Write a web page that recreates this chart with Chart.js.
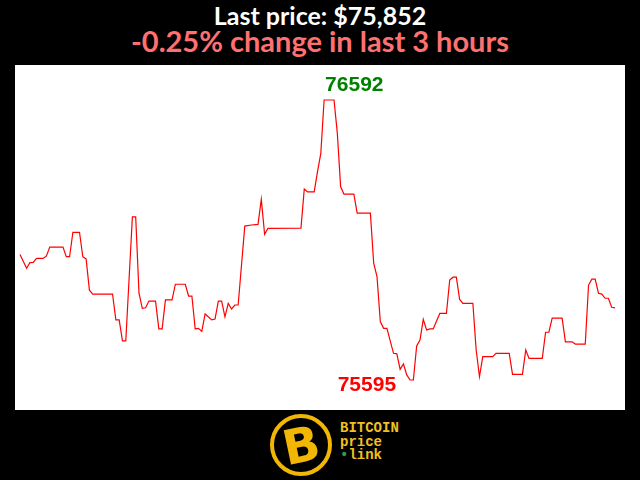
<!DOCTYPE html>
<html>
<head>
<meta charset="utf-8">
<script src="https://cdn.jsdelivr.net/npm/chart.js@4/dist/chart.umd.min.js"></script>
<style>
  html, body { margin: 0; padding: 0; background: #000; }
  body { width: 640px; height: 480px; position: relative; overflow: hidden; }
  .h { position: absolute; left: 0; width: 640px; text-align: center; font-family: Lato, sans-serif; font-weight: bold; white-space: nowrap; }
  #h1 { top: 0px; font-size: 25px; line-height: 30px; color: #fff; }
  #h2 { top: 23px; font-size: 29px; line-height: 35px; color: #ff7070; }
  #box { position: absolute; left: 15px; top: 65px; width: 610px; height: 345px; background: #fff; }
  #logo { position: absolute; left: 270px; top: 414px; width: 54px; height: 54px; border-radius: 50%; border: 4px solid #f2b705; background: #000; overflow: hidden; }
  #logoB { position: absolute; left: 0; top: 0; width: 54px; height: 54px; text-align: center; line-height: 54px; font-family: "DejaVu Sans", sans-serif; font-weight: bold; font-size: 48px; color: #f2b705; transform: rotate(-12deg); }
  #brand { position: absolute; left: 340px; top: 422px; font-family: "Liberation Mono", "DejaVu Sans Mono", monospace; font-weight: bold; font-size: 14px; line-height: 13.5px; color: #f0c020; }
  #brand .dot { color: #2ea043; }
</style>
</head>
<body>
<div id="h1" class="h"></div>
<div id="h2" class="h"></div>
<div id="box"><canvas id="c" width="610" height="345"></canvas></div>
<div id="logo"><div id="logoB">B</div></div>
<div id="brand">BITCOIN<br>price<br><span class="dot">&#8226;</span>link</div>
<script>
// minutes into the 3-hour window
const minutes = [0,2,3,4,5,7,8,9,13,14,15,16,18,19,20,21,22,28,29,30,31,32,34,35,36,37,38,39,41,42,43,44,46,47,50,51,52,53,54,55,56,58,59,60,61,62,63,64,65,66,68,70,72,73,74,75,85,86,87,89,90,91,92,95,96,97,98,101,102,106,107,108,109,110,111,113,114,115,116,117,118,119,120,121,122,123,124,125,127,129,130,131,132,133,134,137,138,139,140,143,144,148,149,152,153,154,158,159,160,161,164,165,167,168,171,172,173,174,175,176,177,178,179,180];
// BTC price (USD)
const prices = [76042,75993,76013,76014,76028,76028,76037,76068,76068,76034,76034,76121,76121,76034,76026,75915,75901,75901,75809,75809,75734,75734,76176,76176,75904,75850,75852,75876,75876,75777,75777,75880,75880,75936,75936,75894,75894,75777,75779,75768,75830,75809,75812,75876,75876,75820,75868,75848,75862,75862,76143,76147,76149,76238,76114,76135,76136,76275,76265,76265,76337,76402,76592,76592,76473,76283,76257,76257,76189,76189,76011,75963,75803,75779,75779,75690,75688,75633,75652,75613,75595,75595,75716,75737,75811,75773,75777,75777,75832,75832,75951,75961,75961,75882,75868,75868,75702,75607,75678,75678,75690,75690,75615,75615,75702,75672,75672,75765,75765,75815,75815,75731,75731,75723,75723,75933,75954,75954,75904,75901,75886,75886,75854,75852];

const lastPrice = prices[prices.length - 1];
const change = (lastPrice - prices[0]) / prices[0] * 100;
document.getElementById('h1').textContent = 'Last price: $' + lastPrice.toLocaleString('en-US');
document.getElementById('h2').textContent = change.toFixed(2) + '% change in last 3 hours';

const maxV = Math.max(...prices), minV = Math.min(...prices);
const maxI = prices.indexOf(maxV), minI = prices.indexOf(minV);

const extremaLabels = {
  id: 'extremaLabels',
  afterDatasetsDraw(chart) {
    const ctx = chart.ctx, xs = chart.scales.x, ys = chart.scales.y;
    ctx.save();
    ctx.font = 'bold 21px "Liberation Sans", Arial, sans-serif';
    ctx.textBaseline = 'alphabetic';
    const mx = xs.getPixelForValue(minutes[maxI]), my = ys.getPixelForValue(maxV);
    ctx.fillStyle = '#008000';
    ctx.textAlign = 'left';
    ctx.fillText(String(maxV), mx + 1, my - 9);
    const nx = xs.getPixelForValue(minutes[minI]), ny = ys.getPixelForValue(minV);
    ctx.fillStyle = '#ff0000';
    ctx.textAlign = 'right';
    ctx.fillText(String(minV), nx - 14, ny + 11);
    ctx.restore();
  }
};

new Chart(document.getElementById('c'), {
  type: 'line',
  data: {
    datasets: [{
      data: minutes.map((m, i) => ({ x: m, y: prices[i] })),
      borderColor: '#ff0000',
      borderWidth: 1.2,
      pointRadius: 0,
      tension: 0,
      fill: false,
      clip: false
    }]
  },
  options: {
    responsive: false,
    animation: false,
    layout: { padding: { left: 5, right: 10, top: 35, bottom: 30 } },
    plugins: { legend: { display: false }, tooltip: { enabled: false }, title: { display: false } },
    scales: {
      x: { type: 'linear', min: 0, max: 180, display: false },
      y: { min: minV, max: maxV, display: false }
    }
  },
  plugins: [extremaLabels]
});
</script>
</body>
</html>
